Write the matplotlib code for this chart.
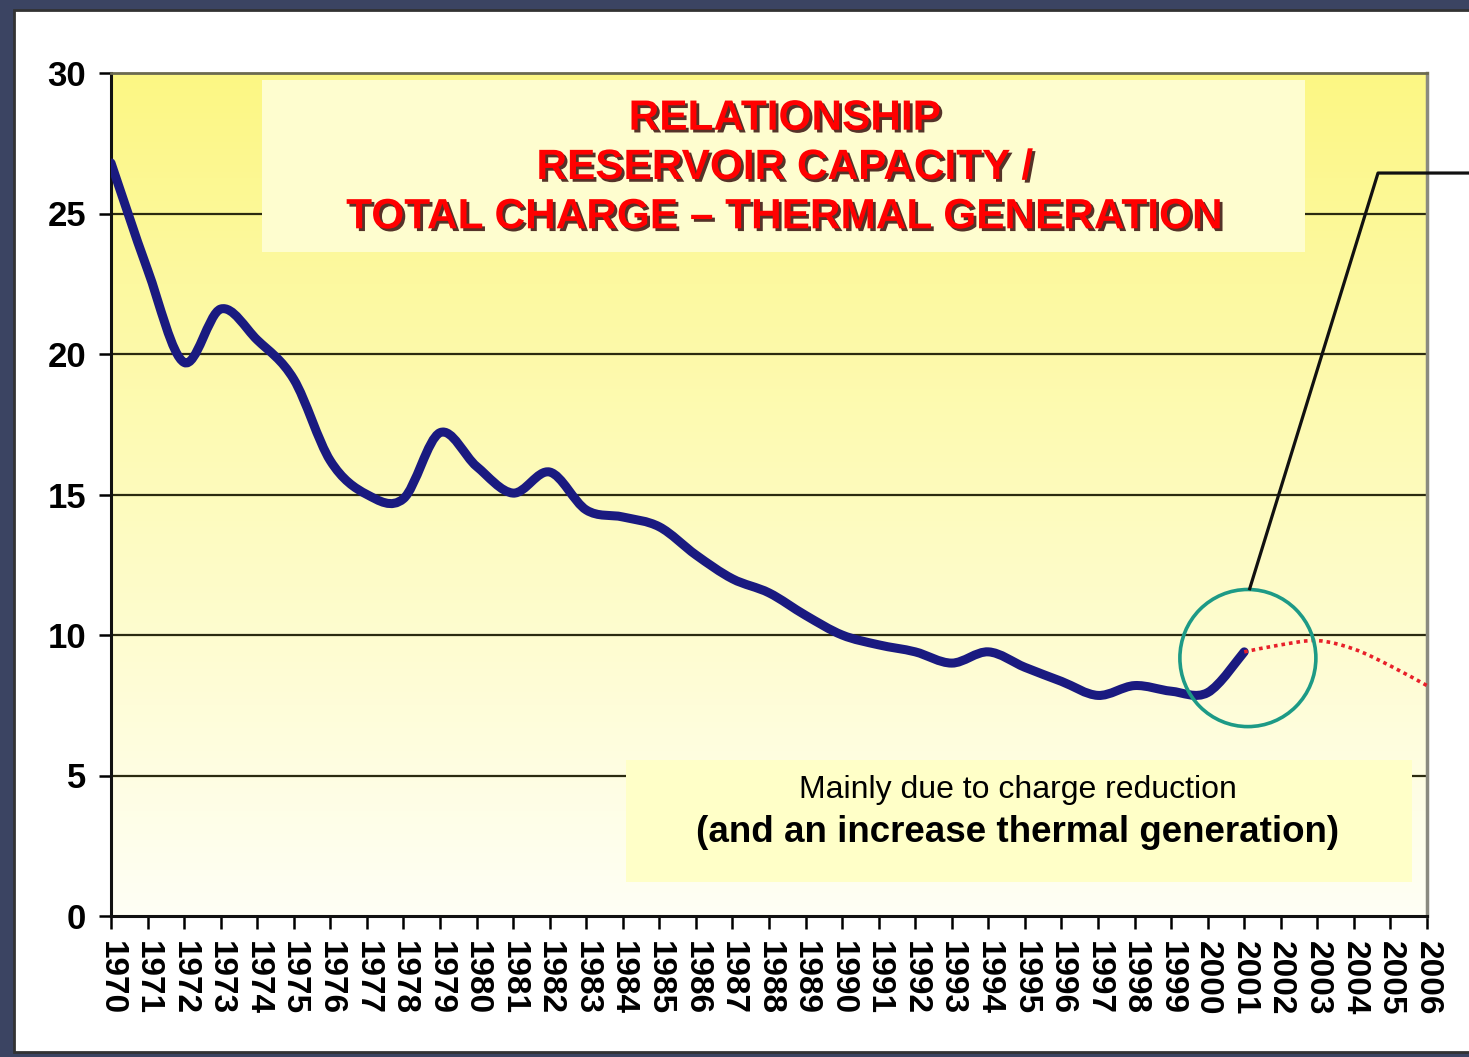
import matplotlib.pyplot as plt
import matplotlib.patches as patches
import matplotlib.patheffects as pe
from matplotlib.path import Path
import numpy as np

plt.rcParams['font.family'] = ['Liberation Sans', 'DejaVu Sans']

# Reservoir capacity / (total charge - thermal generation)
years = list(range(1970, 2002))
ratio = [26.8, 23.0, 19.7, 21.6, 20.5, 19.1, 16.2, 15.0, 14.85, 17.2,
         16.0, 15.05, 15.8, 14.45, 14.2, 13.85, 12.85, 12.0, 11.5, 10.7,
         10.0, 9.65, 9.4, 9.0, 9.4, 8.85, 8.35, 7.85, 8.2, 8.0,
         7.95, 9.4]

# projection (red dotted)
proj_years = [2001, 2002, 2003, 2004, 2005, 2006]
proj_ratio = [9.4, 9.65, 9.8, 9.5, 8.9, 8.2]

xtick_years = list(range(1970, 2007))
ytick_vals = [0, 5, 10, 15, 20, 25, 30]

title_lines = "RELATIONSHIP\nRESERVOIR CAPACITY /\nTOTAL CHARGE \u2013 THERMAL GENERATION"
note1 = "Mainly due to charge reduction"
note2 = "(and an increase thermal generation)"


def smooth_path(xs, ys):
    # Excel-style smoothed line: cubic bezier segments through the data points
    pts = np.column_stack([xs, ys]).astype(float)
    n = len(pts)
    verts = [pts[0]]
    codes = [Path.MOVETO]
    for i in range(n - 1):
        p0 = pts[max(i - 1, 0)]
        p1 = pts[i]
        p2 = pts[i + 1]
        p3 = pts[min(i + 2, n - 1)]
        verts += [p1 + (p2 - p0) / 6, p2 - (p3 - p1) / 6, p2]
        codes += [Path.CURVE4] * 3
    return Path(verts, codes)


W, H = 1469, 1057
fig = plt.figure(figsize=(W / 100, H / 100), dpi=100)
fig.patch.set_facecolor('#3b4462')

# white slide frame
frame = patches.Rectangle((14 / W, 1 - 1052 / H), 1.0, (1052 - 10) / H,
                          transform=fig.transFigure, facecolor='white',
                          edgecolor='#333333', linewidth=2, zorder=-5)
fig.patches.append(frame)

ax = fig.add_axes([111 / W, 1 - 916 / H, (1427 - 111) / W, (916 - 73) / H])
ax.set_zorder(2)

# yellow gradient background (yellow on top, fading to white at the bottom)
grad = np.linspace(0, 1, 256).reshape(-1, 1)
top = np.array([252, 247, 132]) / 255
bot = np.array([255, 255, 245]) / 255
img = top * (1 - grad[..., None]) + bot * grad[..., None]
img = np.repeat(img, 2, axis=1)
ax.imshow(img, extent=[1970, 2006, 0, 30], origin='upper', aspect='auto', zorder=0)
ax.set_xlim(1970, 2006)
ax.set_ylim(0, 30)

for yv in ytick_vals[1:-1]:
    ax.axhline(yv, color='#2b2a10', linewidth=1.6, zorder=1)

# title box
tb = patches.Rectangle(((262 - 111) / 1316, (916 - 252) / 843), (1305 - 262) / 1316,
                       (252 - 80) / 843, transform=ax.transAxes,
                       facecolor='#fefdcf', edgecolor='none', zorder=2)
ax.add_patch(tb)
ax.text((785 - 111) / 1316, (916 - 168) / 843, title_lines, transform=ax.transAxes,
        ha='center', va='center', color='#ff0000', fontsize=30.5, fontweight='bold',
        linespacing=1.30, zorder=3,
        path_effects=[pe.withSimplePatchShadow(offset=(2, -2), shadow_rgbFace='#2a0000', alpha=0.8)])

# note box
nb = patches.Rectangle(((626 - 111) / 1316, (916 - 882) / 843), (1412 - 626) / 1316,
                       (882 - 760) / 843, transform=ax.transAxes,
                       facecolor='#ffffc8', edgecolor='none', zorder=2)
ax.add_patch(nb)
ax.text((1018 - 111) / 1316, (916 - 790) / 843, note1, transform=ax.transAxes,
        ha='center', va='center', fontsize=23, color='black', zorder=3)
ax.text((1018 - 111) / 1316, (916 - 832) / 843, note2, transform=ax.transAxes,
        ha='center', va='center', fontsize=26.5, fontweight='bold', color='black', zorder=3)

# data
ax.add_patch(patches.PathPatch(smooth_path(years, ratio), facecolor='none',
                               edgecolor='#1a1a80', linewidth=6.5,
                               joinstyle='round', capstyle='round', zorder=4))
ax.add_patch(patches.PathPatch(smooth_path(proj_years, proj_ratio), facecolor='none',
                               edgecolor='#e8202a', linewidth=2.6,
                               linestyle=(0, (1, 1.1)), zorder=4, clip_on=False))

# highlight circle and leader line
circ = patches.Ellipse((2001.1, 9.18), 3.72, 4.88, facecolor='none',
                       edgecolor='#1d9a86', linewidth=2.6, zorder=5)
ax.add_patch(circ)
ax.plot([2001.15, 2004.66, 2008], [11.65, 26.44, 26.44], color='#111111',
        linewidth=2.3, zorder=5, clip_on=False)

ax.set_xticks(xtick_years)
ax.set_xticklabels([str(y) for y in xtick_years], rotation=270, fontsize=24,
                   fontweight='bold')
ax.set_yticks(ytick_vals)
ax.set_yticklabels([str(v) for v in ytick_vals], fontsize=25, fontweight='bold')
ax.tick_params(axis='x', direction='out', length=9, width=1.8, pad=9)
ax.tick_params(axis='y', direction='out', length=9, width=1.8, pad=9)

ax.spines['left'].set_color('#111111')
ax.spines['bottom'].set_color('#111111')
ax.spines['left'].set_linewidth(2.2)
ax.spines['bottom'].set_linewidth(2.2)
ax.spines['top'].set_color('#6b6a50')
ax.spines['top'].set_linewidth(2)
ax.spines['right'].set_color('#8a8a80')
ax.spines['right'].set_linewidth(2.5)

fig.savefig('out.png', dpi=100, facecolor=fig.get_facecolor())
